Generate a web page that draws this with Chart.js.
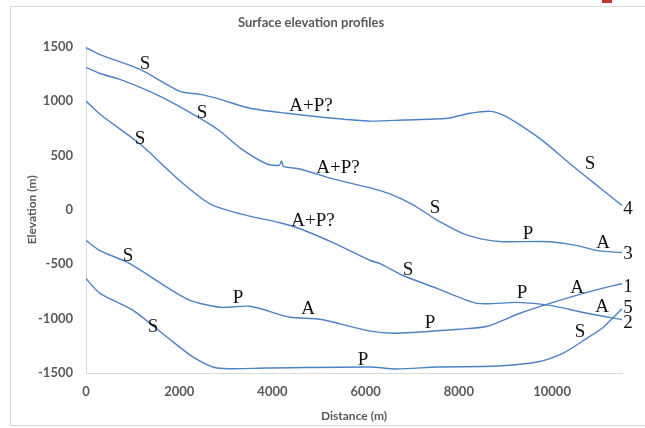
<!DOCTYPE html>
<html>
<head>
<meta charset="utf-8">
<script src="https://cdn.jsdelivr.net/npm/chart.js@4/dist/chart.umd.min.js"></script>
<style>
  html, body { margin: 0; padding: 0; background: #fff; }
  #wrap { width: 645px; height: 428px; }
</style>
</head>
<body>
<div id="wrap"><canvas id="myChart" width="645" height="428"></canvas></div>
<script>
// profile 1
const dist1 = [0, 300, 940, 1740, 2230, 2880, 3520, 4380, 5020, 6100, 6670, 8030, 8610, 9310, 10020, 10750, 11500];
const elev1 = [-283, -375, -494, -713, -832, -896, -887, -988, -1006, -1115, -1134, -1097, -1070, -951, -851, -759, -677];
// profile 2
const dist2 = [0, 300, 1160, 2020, 2660, 3310, 4160, 4590, 5300, 6100, 6310, 6800, 7530, 8390, 9250, 9960, 10750, 11500];
const elev2 = [1000, 878, 604, 265, 55, -37, -119, -174, -302, -466, -494, -604, -722, -860, -851, -878, -951, -1010];
// profile 3
const dist3 = [0, 300, 730, 1590, 2450, 2880, 3310, 3880, 4150, 4195, 4240, 4590, 5300, 6100, 6520, 7000, 7530, 7960, 8090, 8500, 8950, 9960, 10540, 10970, 11500];
const elev3 = [1310, 1253, 1198, 1043, 841, 722, 567, 421, 410, 450, 400, 375, 284, 201, 146, 50, -95, -192, -219, -270, -293, -293, -329, -375, -393];
// profile 4
const dist4 = [0, 300, 1160, 2020, 2450, 2880, 3520, 4310, 5300, 6100, 6800, 7750, 8240, 8670, 8950, 9310, 9810, 10390, 11030, 11500];
const elev4 = [1490, 1427, 1290, 1088, 1061, 1015, 933, 887, 841, 815, 825, 841, 887, 905, 870, 780, 631, 421, 201, 40];
// profile 5
const dist5 = [0, 300, 1010, 1740, 2300, 2810, 3880, 6100, 6670, 7530, 8820, 9680, 10240, 10750, 11100, 11500];
const elev5 = [-631, -768, -924, -1171, -1354, -1454, -1454, -1445, -1463, -1445, -1436, -1399, -1317, -1180, -1079, -910];

// axis ticks
const xTicks = [0, 2000, 4000, 6000, 8000, 10000];
const yTicks = [-1500, -1000, -500, 0, 500, 1000, 1500];

// text notes on the curves
const noteText = ["S", "S", "S", "A+P?", "A+P?", "A+P?", "S", "4", "S", "P", "A", "3", "S",
                  "P", "A", "1", "A", "5", "2", "P", "S", "S", "P", "A", "S", "P"];
const noteX = [1266, 2489, 1159, 4829, 5408, 4872, 10816, 11631, 7489, 9486, 11095, 11631, 6910,
               9357, 10537, 11631, 11073, 11631, 11631, 7382, 10601, 901, 3262, 4764, 1438, 5944];
const noteY = [1344, 887, 649, 951, 384, -101, 421, 9, 18, -219, -302, -402, -558,
               -768, -722, -713, -896, -905, -1043, -1043, -1125, -421, -814, -914, -1079, -1381];

const lineColor = "#4e82c4";
const grey = "#595959";

function toPoints(xs, ys) {
  return xs.map((x, i) => ({ x: x, y: ys[i] }));
}

const profiles = [[dist1, elev1], [dist2, elev2], [dist3, elev3], [dist4, elev4], [dist5, elev5]];

const datasets = profiles.map((p, i) => ({
  label: "Profile " + (i + 1),
  data: toPoints(p[0], p[1]),
  borderColor: lineColor,
  borderWidth: 1.4,
  pointRadius: 0,
  fill: false,
  tension: 0.25,
}));

// frame + notes drawn around the chart
const extras = {
  id: "extras",
  beforeDraw(chart) {
    const ctx = chart.ctx;
    ctx.save();
    ctx.fillStyle = "#fff";
    ctx.fillRect(0, 0, chart.width, chart.height);
    ctx.strokeStyle = "#d9d9d9";
    ctx.lineWidth = 1;
    ctx.strokeRect(10.5, 6.5, 640, 419);
    ctx.fillStyle = "#c0392b";
    ctx.fillRect(602, 0, 10, 3);
    ctx.restore();
  },
  afterDraw(chart) {
    const ctx = chart.ctx;
    const xs = chart.scales.x, ys = chart.scales.y;
    ctx.save();
    ctx.fillStyle = "#111";
    ctx.font = "19px 'Liberation Serif', 'DejaVu Serif', serif";
    ctx.textAlign = "center";
    ctx.textBaseline = "middle";
    noteText.forEach((t, i) => {
      ctx.fillText(t, xs.getPixelForValue(noteX[i]), ys.getPixelForValue(noteY[i]));
    });
    ctx.restore();
  },
};

const tickFont = { family: "Lato", size: 13, weight: "bold" };

const ctx = document.getElementById("myChart").getContext("2d");
new Chart(ctx, {
  type: "line",
  data: { datasets: datasets },
  options: {
    responsive: false,
    animation: false,
    layout: { padding: { left: 0, right: 23, top: 6, bottom: 0 } },
    plugins: {
      legend: { display: false },
      tooltip: { enabled: false },
      title: {
        display: true,
        text: "Surface elevation profiles",
        color: grey,
        font: { family: "Lato", size: 13, weight: "bold" },
        padding: { top: 9, bottom: 16 },
      },
    },
    scales: {
      x: {
        type: "linear",
        min: 0,
        max: 11500,
        grid: { display: false, drawTicks: false },
        border: { display: true, color: "#d9d9d9", width: 1 },
        afterBuildTicks(scale) { scale.ticks = xTicks.map((v) => ({ value: v })); },
        ticks: {
          padding: 11,
          color: grey,
          maxRotation: 0,
          autoSkip: false,
          font: tickFont,
          callback: (v) => String(v),
        },
        title: {
          display: true,
          text: "Distance (m)",
          color: grey,
          font: { family: "Lato", size: 12, weight: "bold" },
          padding: { top: 0, bottom: 5 },
        },
        afterFit(scale) { scale.height = 55; },
      },
      y: {
        min: -1500,
        max: 1500,
        grid: { display: false, drawTicks: false },
        border: { display: true, color: "#d9d9d9", width: 1 },
        afterBuildTicks(scale) { scale.ticks = yTicks.map((v) => ({ value: v })); },
        ticks: {
          padding: 13,
          color: grey,
          autoSkip: false,
          font: tickFont,
          callback: (v) => String(v),
        },
        title: {
          display: true,
          text: "Elevation (m)",
          color: grey,
          font: { family: "Lato", size: 12, weight: "bold" },
          padding: { top: 25, bottom: 0 },
        },
        afterFit(scale) { scale.width = 86; },
      },
    },
  },
  plugins: [extras],
});
</script>
</body>
</html>
